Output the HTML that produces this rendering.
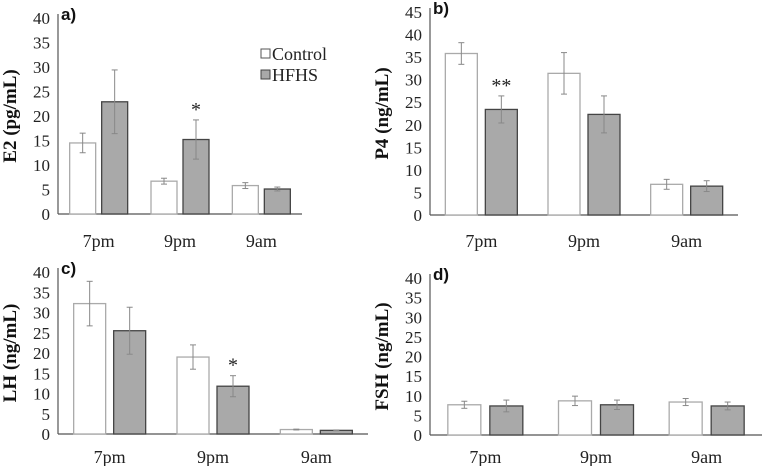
<!DOCTYPE html>
<html><head><meta charset="utf-8"><style>
html,body{margin:0;padding:0;background:#fff;}
svg{display:block;}
svg text{font-family:"Liberation Serif","Noto Serif CJK SC","DejaVu Serif",serif;}
svg text.sans{font-family:"Liberation Sans",sans-serif;}
</style></head><body>
<svg id="c" width="762" height="466" viewBox="0 0 762 466"></svg>
<script>
const categories = ["7pm","9pm","9am"];
const aControl = [14.5, 6.7, 5.8];
const aHFHS = [22.9, 15.2, 5.1];
const aControlErr = [2.0, 0.6, 0.6];
const aHFHSErr = [6.5, 4.0, 0.4];
const aTicks = [0,5,10,15,20,25,30,35,40];
const bControl = [35.8, 31.4, 6.8];
const bHFHS = [23.4, 22.3, 6.4];
const bControlErr = [2.4, 4.6, 1.1];
const bHFHSErr = [3.0, 4.1, 1.2];
const bTicks = [0,5,10,15,20,25,30,35,40,45];
const cControl = [32.2, 19.0, 1.1];
const cHFHS = [25.5, 11.8, 0.9];
const cControlErr = [5.5, 3.0, 0.1];
const cHFHSErr = [5.8, 2.6, 0.1];
const cTicks = [0,5,10,15,20,25,30,35,40];
const dControl = [7.7, 8.7, 8.4];
const dHFHS = [7.4, 7.7, 7.4];
const dControlErr = [0.9, 1.2, 0.9];
const dHFHSErr = [1.5, 1.2, 1.0];
const dTicks = [0,5,10,15,20,25,30,35,40];

const svg = document.getElementById('c');
const NS = 'http://www.w3.org/2000/svg';
const SERIF = '"Liberation Serif", "Noto Serif CJK SC", "DejaVu Serif", serif';
function mk(tag, attrs, parent){const e=document.createElementNS(NS,tag);for(const k in attrs)e.setAttribute(k,attrs[k]);(parent||svg).appendChild(e);return e;}

function panel(o){
  const g = mk('g',{});
  
  
  const maxV = o.ticks[o.ticks.length-1];
  const y = v => o.y0 - (v/maxV)*(o.y0-o.yTop);
  const gw = (o.x1-o.x0)/categories.length;
  const ya = mk('line',{x1:o.x0,y1:o.yTop-4,x2:o.x0,y2:o.y0,stroke:'#555','stroke-width':1.2},g);
  
  
  const xa = mk('line',{x1:o.x0,y1:o.y0,x2:o.x1,y2:o.y0,stroke:'#555','stroke-width':1.2},g);
  
  
  o.ticks.forEach(t=>{
    const tl = mk('text',{x:o.x0-8,y:y(t)+6,'text-anchor':'end','font-size':17,fill:'#222','font-family':SERIF},g);
    tl.textContent=t;
    
    
  });
  categories.forEach((c,i)=>{
    const cx = o.x0 + gw*(i+0.5);
    const xl = mk('text',{x:cx,y:o.xlY,'text-anchor':'middle','font-size':18,fill:'#222','font-family':SERIF},g);
    xl.textContent=c;
    
    
    [[o.ctrl,o.ctrlErr,'#fff','#aaa',-1],[o.hfhs,o.hfhsErr,'#a9a9a9','#444',1]].forEach(([vals,errs,fill,st,s])=>{
      const bx = s<0 ? cx-o.gap/2-o.bw : cx+o.gap/2;
      const r = mk('rect',{x:bx,y:y(vals[i]),width:o.bw,height:o.y0-y(vals[i]),fill:fill,stroke:st,'stroke-width':1.3},g);
      
      
      const ex = bx+o.bw/2, yh=y(vals[i]+errs[i]), yl=y(vals[i]-errs[i]);
      const eg = mk('g',{stroke:'#888','stroke-width':1},g);
      
      
      mk('line',{x1:ex,y1:yh,x2:ex,y2:yl},eg);
      mk('line',{x1:ex-3,y1:yh,x2:ex+3,y2:yh},eg);
      mk('line',{x1:ex-3,y1:yl,x2:ex+3,y2:yl},eg);
    });
  });
  const pl = mk('text',{x:o.x0+3,y:o.yTop+2,'class':'sans','font-family':'"Liberation Sans", sans-serif','font-weight':'bold','font-size':17,fill:'#111'},g);
  pl.textContent=o.id+')';
  
  
  const yt = mk('text',{x:0,y:0,transform:`translate(${o.ytX},${(o.y0+o.yTop)/2}) rotate(-90)`,'text-anchor':'middle','font-weight':'bold','font-size':19,fill:'#111','font-family':SERIF},g);
  yt.textContent=o.ytitle;
  
  
  (o.stars||[]).forEach(([i,txt])=>{
    const cx = o.x0 + gw*(i+0.5) + o.gap/2 + o.bw/2;
    const v = o.hfhs[i]+o.hfhsErr[i];
    const st = mk('text',{x:cx,y:y(v)-4,'text-anchor':'middle','font-size':20,fill:'#222','font-family':SERIF},g);
    st.textContent=txt;
    
    
  });
}
panel({id:'a',x0:58,x1:302,y0:214,yTop:18,ticks:aTicks,ctrl:aControl,hfhs:aHFHS,ctrlErr:aControlErr,hfhsErr:aHFHSErr,bw:26,gap:6,xlY:247,ytX:16,ytitle:'E2 (pg/mL)',stars:[[1,'*']]});
panel({id:'b',x0:430,x1:738,y0:215,yTop:12,ticks:bTicks,ctrl:bControl,hfhs:bHFHS,ctrlErr:bControlErr,hfhsErr:bHFHSErr,bw:32,gap:8,xlY:247,ytX:388,ytitle:'P4 (ng/mL)',stars:[[0,'**']]});
panel({id:'c',x0:58,x1:368,y0:434,yTop:272,ticks:cTicks,ctrl:cControl,hfhs:cHFHS,ctrlErr:cControlErr,hfhsErr:cHFHSErr,bw:32,gap:8,xlY:463,ytX:16,ytitle:'LH (ng/mL)',stars:[[1,'*']]});
panel({id:'d',x0:430,x1:762,y0:435,yTop:278,ticks:dTicks,ctrl:dControl,hfhs:dHFHS,ctrlErr:dControlErr,hfhsErr:dHFHSErr,bw:33,gap:9,xlY:463,ytX:388,ytitle:'FSH (ng/mL)'});
const lg = mk('g',{});


mk('rect',{x:261,y:49,width:9,height:9,fill:'#fff',stroke:'#555'},lg);
const l1 = mk('text',{x:272,y:60,'font-size':18,fill:'#222','font-family':SERIF},lg);
l1.textContent='Control';


mk('rect',{x:261,y:70,width:9,height:9,fill:'#a9a9a9',stroke:'#444'},lg);
const l2 = mk('text',{x:272,y:81,'font-size':18,fill:'#222','font-family':SERIF},lg);
l2.textContent='HFHS';


</script>
</body></html>
